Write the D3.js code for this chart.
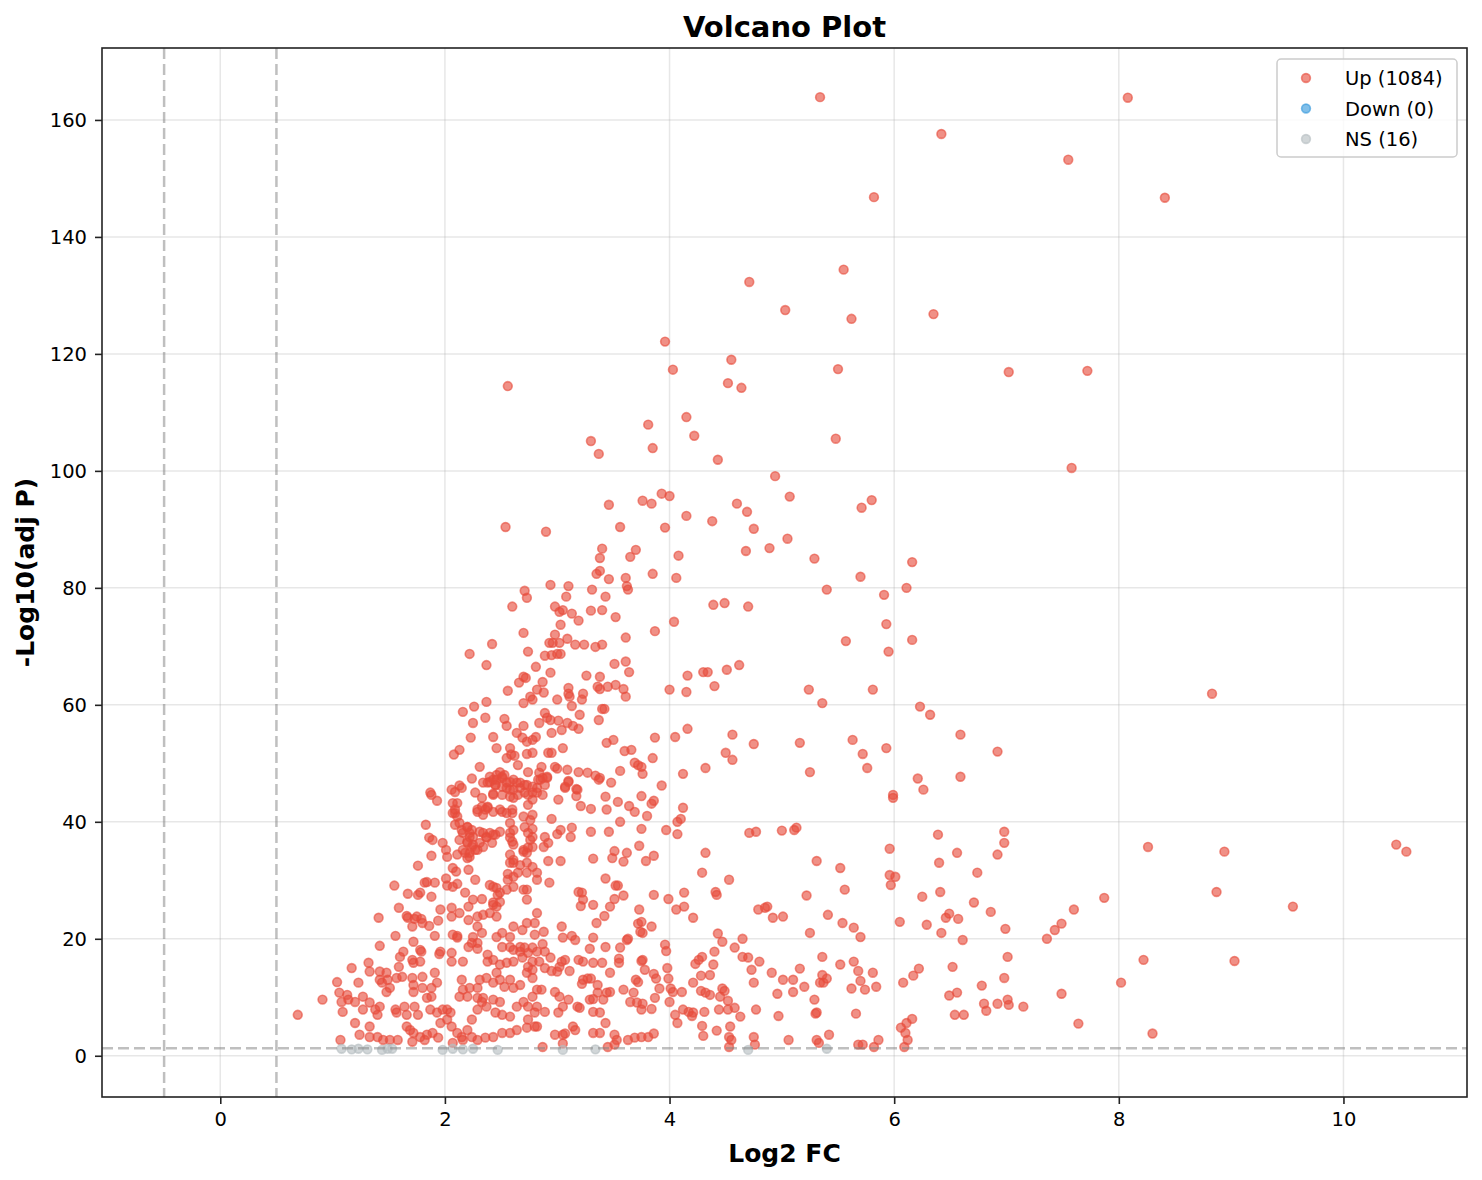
<!DOCTYPE html>
<html><head><meta charset="utf-8">
<script src="https://cdn.jsdelivr.net/npm/d3@7"></script>
<style>body{margin:0;background:#fff}svg{display:block}text{font-family:"DejaVu Sans",sans-serif}</style>
</head><body><svg id="c" width="1482" height="1180"></svg>
<script>
const titleText = "Volcano Plot";
const xLabel = "Log2 FC";
const yLabel = "-Log10(adj P)";
const xTicks = [0,2,4,6,8,10];
const yTicks = [0,20,40,60,80,100,120,140,160];
const legendLabels = ["Up (1084)","Down (0)","NS (16)"];
const fcThresholds = [-0.5, 0.5];
const pThreshold = 1.301;

const upTop = [[5.34,163.9],[8.08,163.8],[6.42,157.6],[7.55,153.2],[5.82,146.8],[8.41,146.7],[5.55,134.4],[4.71,132.3],[5.03,127.5],[6.35,126.8],[5.62,126.0],[3.96,122.1],[4.55,119.0],[5.50,117.4],[4.03,117.3],[7.02,116.9],[7.72,117.1],[2.56,114.5],[4.52,115.0],[4.64,114.2],[4.15,109.2],[3.81,107.9],[4.22,106.0],[3.30,105.1],[5.48,105.5],[3.37,102.9],[3.85,103.9],[4.43,101.9],[7.58,100.5],[4.94,99.1],[5.07,95.6],[3.93,96.1],[4.00,95.7],[3.76,94.9],[3.84,94.4],[5.80,95.0],[3.46,94.2],[5.71,93.7],[4.60,94.4],[4.69,93.0],[4.15,92.3],[4.38,91.4],[3.56,90.4],[2.54,90.4],[2.90,89.6],[3.96,90.3],[4.75,90.1],[5.05,88.4],[4.89,86.8],[3.40,86.7],[3.70,86.5],[4.68,86.3],[3.65,85.3],[4.08,85.5],[3.38,85.1],[5.29,85.0],[6.16,84.4]];

const upMidRight = [[5.70,81.9],[5.40,79.7],[6.11,80.0],[5.91,78.8],[5.93,73.8],[5.57,70.9],[6.16,71.1],[5.95,69.1],[5.24,62.6],[5.81,62.6],[8.83,61.9],[5.36,60.3],[6.23,59.7],[6.32,58.3],[6.59,54.9],[5.63,54.0],[6.92,52.0],[5.93,52.6],[5.72,51.6],[5.76,49.2],[5.25,48.5],[6.21,47.4],[6.59,47.7],[6.26,45.5],[5.99,44.1],[5.99,44.6],[5.16,53.5]];

const upMidUpper = [[3.38,82.9],[3.35,82.4],[3.46,81.5],[3.85,82.4],[3.61,81.7],[3.62,80.3],[3.63,79.7],[4.06,81.7],[2.94,80.5],[3.10,80.3],[3.08,78.5],[3.31,79.7],[3.43,78.5],[4.39,77.1],[4.49,77.4],[4.70,76.8],[2.98,76.8],[3.02,75.9],[3.05,76.2],[3.13,75.6],[3.30,76.1],[3.40,76.2],[3.19,74.4],[3.52,75.0],[3.03,73.7],[4.04,74.2],[3.87,72.6],[3.61,71.5],[2.98,72.0],[2.93,70.6],[2.96,70.6],[3.02,70.6],[3.09,71.3],[3.16,70.3],[3.24,70.3],[3.34,69.9],[3.40,70.3],[2.89,68.4],[2.95,68.5],[3.00,68.7],[3.03,68.7],[3.51,67.0],[3.61,67.4],[3.64,65.6],[2.94,65.5],[3.26,65.0],[3.38,64.8],[4.16,65.0],[4.30,65.6],[4.34,65.6],[4.51,66.0],[4.62,66.8],[2.87,63.9],[2.88,62.1],[3.10,62.9],[3.10,61.9],[3.11,61.4],[3.23,61.9],[3.22,60.9],[3.36,63.1],[3.38,62.7],[3.45,63.1],[3.52,63.4],[3.59,62.7],[3.61,61.4],[4.00,62.6],[4.15,62.2],[4.40,63.2],[3.00,60.9],[3.13,59.8],[3.20,58.3],[3.40,59.3],[3.42,59.3],[3.37,57.4],[2.89,58.6],[2.91,57.8],[2.94,57.4],[3.01,57.3],[3.04,55.7],[2.95,55.2],[3.09,56.9],[3.14,56.4],[3.19,55.9],[3.05,52.6],[2.92,51.8],[2.95,51.8],[3.44,53.5],[3.50,54.0],[3.60,52.1],[3.66,52.3],[3.87,54.4],[4.05,54.5],[4.16,55.9],[4.56,54.9],[4.75,53.3],[3.85,50.9],[4.50,51.8],[4.56,50.6],[3.69,50.1],[3.72,49.7],[3.75,49.4],[3.76,48.2],[3.56,48.7],[4.12,48.2],[4.32,49.2],[2.86,49.4],[2.87,47.5],[2.91,47.7],[2.98,49.4],[3.00,49.1],[3.09,48.9],[3.19,48.5],[3.27,48.4],[3.34,47.9],[3.38,47.5],[3.10,47.0],[3.07,46.0],[3.17,45.6],[3.48,46.7],[3.93,46.2]];

const upMidLeft = [[2.71,79.5],[2.73,78.3],[2.60,76.8],[2.70,72.3],[2.42,70.4],[2.22,68.7],[2.37,66.8],[2.74,69.1],[2.81,66.5],[2.70,64.8],[2.72,64.6],[2.66,63.8],[2.56,62.4],[2.76,61.4],[2.78,60.9],[2.82,62.6],[2.70,60.3],[2.16,58.8],[2.26,59.7],[2.37,60.5],[2.25,56.9],[2.36,57.8],[2.53,57.6],[2.55,56.4],[2.23,54.4],[2.43,54.5],[2.46,52.6],[2.70,56.4],[2.64,55.2],[2.69,54.4],[2.73,53.7],[2.78,54.0],[2.81,54.5],[2.84,56.9],[2.08,51.5],[2.13,52.3],[2.31,49.4],[2.58,52.6],[2.59,51.5],[2.62,51.3],[2.55,50.9],[2.65,49.7],[2.73,51.6],[2.78,51.8],[2.24,47.4],[2.13,46.2],[2.06,45.5],[2.40,46.8],[2.46,47.2],[2.45,46.3],[2.51,47.7],[2.53,48.0],[2.61,47.2],[2.67,46.7],[2.71,46.3],[2.74,48.5],[2.84,48.4],[2.83,47.2]];

const upCluster = [[2.40,47.7],[2.46,48.0],[2.51,47.5],[2.58,46.8],[2.64,46.7],[2.38,46.7],[2.45,46.3],[2.51,46.0],[2.55,45.8],[2.61,45.5],[2.67,45.8],[2.73,46.3],[2.49,48.5],[2.65,44.6],[2.58,44.3],[2.43,44.6],[2.78,45.0],[2.82,45.8],[2.85,47.2],[2.91,47.5],[2.13,39.8],[2.20,39.1],[2.24,38.6],[2.16,38.1],[2.22,37.4],[2.13,36.9],[2.20,36.4],[2.25,36.1],[2.16,35.2],[2.22,34.7],[2.27,35.2],[2.11,34.4],[2.20,33.8],[2.34,38.1],[2.37,37.3],[2.40,38.1],[2.45,37.8],[2.29,42.1],[2.33,42.6],[2.38,42.4],[2.43,41.7],[2.49,42.1],[2.55,41.5],[2.60,42.1],[2.34,41.2],[2.11,43.2],[2.09,41.5]];

const upDenseLeft = [[1.88,44.6],[1.93,43.6],[1.87,45.0],[2.09,45.1],[2.15,45.8],[2.27,45.0],[2.33,44.1],[2.43,44.8],[2.51,44.6],[2.61,44.1],[2.71,45.0],[2.34,46.7],[2.43,47.2],[2.55,46.7],[2.58,45.5],[2.07,43.2],[2.09,42.1],[2.07,41.5],[2.11,40.9],[2.29,41.7],[2.36,42.1],[2.38,42.6],[2.51,41.7],[2.70,40.9],[2.78,41.2],[2.74,44.6],[2.78,43.8],[2.74,42.9],[1.83,39.5],[2.09,39.5],[2.15,38.6],[2.20,39.1],[2.22,38.1],[2.25,37.4],[2.31,38.3],[2.37,37.4],[2.43,37.8],[2.49,38.3],[2.58,38.1],[2.61,38.6],[2.20,36.6],[2.24,35.7],[2.18,34.7],[2.22,34.0],[2.31,36.4],[2.29,35.2],[2.34,35.7],[2.42,36.4],[2.60,36.6],[2.58,37.3],[2.70,35.2],[2.73,34.7],[2.78,37.4],[2.76,36.9],[1.86,37.3],[1.89,36.9],[1.98,36.4],[2.01,35.2],[2.02,34.0],[1.88,34.2],[2.07,32.1],[2.10,31.5],[2.21,31.8],[2.27,30.1],[1.76,32.5],[2.01,30.3],[2.02,29.1],[2.07,28.9],[2.11,29.4],[1.91,29.6],[1.84,29.7],[1.82,29.6],[2.18,27.9],[2.25,26.7],[2.33,26.8],[2.40,29.2],[2.46,28.7],[2.47,27.5],[2.43,26.2],[2.46,25.5],[2.56,31.1],[2.61,33.0],[2.70,34.9],[2.73,28.4],[2.73,26.7],[2.82,30.1],[1.55,29.1],[1.67,27.7],[1.76,27.5],[1.78,27.9],[1.88,27.2],[1.59,25.3],[1.41,23.6],[1.66,23.9],[1.67,23.6],[1.75,23.8],[1.80,22.7],[1.73,23.4],[1.79,23.4],[1.86,22.2],[1.94,23.1],[1.96,25.0],[2.06,25.3],[2.06,23.8],[2.13,24.4],[1.71,22.1],[1.56,20.5],[1.42,18.8],[1.72,19.5],[1.78,18.1],[1.79,17.8],[1.91,20.5],[1.95,17.4],[1.96,17.8],[2.06,17.6],[2.07,20.7],[2.11,20.5],[2.11,20.2],[2.16,16.1],[2.21,18.6],[2.29,18.3],[2.29,19.3],[1.60,16.9],[1.63,17.8],[1.59,15.2],[1.71,16.4],[1.72,15.9],[1.78,16.1],[1.32,15.9],[1.33,14.4],[1.42,14.4],[1.48,14.2],[1.42,13.0],[1.44,12.5],[1.49,13.0],[1.51,11.6],[1.48,10.9],[1.17,15.0],[1.23,12.5],[1.04,12.6],[1.06,10.8],[1.13,10.4],[1.08,9.2],[1.14,9.6],[1.09,7.5],[0.91,9.6],[0.69,7.0],[1.20,9.2],[1.27,10.1],[1.33,9.1],[1.38,7.9],[1.42,8.4],[1.40,7.0],[1.27,7.9],[1.57,13.3],[1.62,13.5],[1.71,13.3],[1.72,12.1],[1.72,10.9],[1.80,13.5],[1.80,11.6],[1.88,11.6],[1.91,14.2],[1.93,12.5],[1.56,7.9],[1.57,7.4],[1.66,7.0],[1.73,8.4],[1.76,7.0],[1.64,8.4],[1.84,9.9],[1.88,10.1],[1.87,7.9],[1.93,7.4],[1.96,5.6],[2.02,7.9],[2.05,7.4],[2.06,16.1],[2.15,13.0],[2.16,11.3],[2.13,10.1],[1.20,5.6],[1.24,3.6],[1.33,5.0],[1.33,3.2],[1.40,3.2],[1.45,2.7],[1.51,2.7],[1.58,2.7],[1.07,2.7],[1.66,5.0],[1.69,4.4],[1.72,3.9],[1.78,3.2],[1.84,3.6],[1.89,3.9],[1.94,3.1],[1.82,2.7],[1.71,2.4],[1.98,7.9],[2.02,6.2],[2.06,5.0],[2.11,3.9],[2.15,3.2],[2.20,4.4],[2.24,6.2],[2.29,7.9],[2.33,9.2],[2.37,8.4],[2.43,9.6],[2.49,9.2],[2.45,7.4],[2.51,7.0],[2.58,6.7],[2.64,8.4],[2.70,9.2],[2.74,8.4],[2.74,6.2],[2.80,7.4],[2.82,5.0],[2.73,4.8],[2.64,4.4],[2.58,3.9],[2.51,3.9],[2.43,3.2],[2.36,3.1],[2.29,2.7],[2.24,3.2],[2.16,2.7],[2.07,2.2],[2.20,10.1],[2.29,9.9],[2.34,9.9],[2.29,11.6],[2.22,11.6],[2.31,13.0],[2.37,13.3],[2.43,12.5],[2.49,13.0],[2.53,11.8],[2.58,13.0],[2.61,11.6],[2.67,12.1],[2.73,14.2],[2.78,13.3],[2.82,11.3],[2.46,14.2],[2.38,16.1],[2.43,16.4],[2.49,15.6],[2.55,15.9],[2.61,16.1],[2.69,16.8],[2.71,18.5],[2.67,18.6],[2.78,16.1],[2.74,15.2],[2.24,19.3],[2.38,17.3],[2.51,18.6],[2.58,18.6],[2.61,18.1],[2.67,17.8],[2.74,17.6],[2.82,17.8],[2.80,20.7],[2.82,24.4],[2.73,22.7],[2.69,21.5],[2.61,22.1],[2.58,20.3],[2.51,21.0],[2.46,20.3],[2.46,23.8],[2.40,24.4],[2.43,25.8],[2.49,26.3],[2.34,24.1],[2.29,23.8],[2.33,21.0],[2.29,22.1],[2.25,20.3],[2.21,23.2],[2.21,25.5],[2.61,30.6],[2.65,31.3],[2.56,30.1],[2.73,31.3],[2.78,32.3],[2.82,31.3],[2.67,32.6],[2.61,33.5],[2.58,33.0],[2.73,33.0],[2.43,28.9],[2.49,27.9],[2.55,28.4],[2.61,28.9],[2.70,28.4],[2.58,34.4],[2.61,36.1],[2.74,35.6],[2.74,38.1],[2.71,39.1],[2.76,40.3],[2.60,41.5],[2.58,39.8]];

const upDenseMid = [[2.78,46.0],[2.82,45.0],[2.89,46.3],[2.87,44.6],[3.07,45.8],[3.10,46.8],[3.18,45.5],[3.17,44.4],[3.37,47.2],[3.01,43.8],[3.21,42.7],[3.30,42.2],[3.43,44.3],[3.44,42.1],[3.54,43.4],[3.64,42.7],[3.69,41.7],[3.75,44.4],[3.84,43.1],[3.86,43.6],[3.80,41.0],[4.12,42.4],[4.10,40.5],[4.07,40.0],[4.07,37.9],[3.97,38.6],[2.95,40.5],[3.56,40.0],[2.78,38.8],[2.78,35.7],[2.89,37.4],[2.88,35.7],[2.92,36.4],[3.03,38.6],[3.00,37.9],[3.13,39.0],[3.12,37.4],[3.30,38.3],[3.46,38.3],[3.75,38.8],[4.71,38.1],[4.77,38.3],[5.00,38.5],[4.32,34.7],[4.29,31.3],[4.53,30.1],[2.92,33.3],[3.03,33.3],[3.32,33.7],[3.51,35.0],[3.49,33.8],[3.59,33.2],[3.62,34.7],[3.73,35.9],[3.79,33.3],[3.86,34.2],[2.93,29.6],[3.19,28.0],[3.22,27.9],[3.23,26.7],[3.21,25.6],[3.32,25.8],[3.43,30.3],[3.52,29.1],[3.54,29.1],[3.51,26.8],[3.47,25.5],[3.59,27.4],[3.42,23.9],[3.35,22.7],[3.73,25.0],[3.72,22.6],[3.75,22.9],[3.76,21.0],[3.84,22.1],[3.74,21.2],[3.86,27.5],[3.99,26.8],[4.06,25.0],[4.13,25.5],[4.13,27.9],[4.21,23.6],[4.41,28.0],[4.42,27.5],[4.79,25.0],[4.87,25.5],[4.85,25.3],[4.92,23.6],[5.01,23.8],[2.80,22.7],[2.88,21.2],[3.04,22.1],[3.13,20.5],[3.16,19.8],[3.05,20.2],[3.32,20.2],[3.43,18.6],[3.29,18.3],[3.56,18.5],[3.62,19.8],[3.63,20.0],[3.96,19.0],[3.97,17.9],[4.43,20.9],[4.47,19.5],[4.40,17.8],[4.29,16.9],[4.58,18.5],[4.65,20.0],[4.65,16.9],[4.70,16.8],[4.80,16.1],[2.78,18.5],[2.87,19.1],[2.89,17.8],[2.84,16.1],[2.89,15.0],[2.78,14.7],[2.94,16.8],[3.04,16.1],[3.07,16.4],[3.02,15.2],[3.19,16.4],[3.23,16.1],[3.32,15.9],[3.40,15.9],[2.95,14.5],[3.00,14.4],[3.11,14.5],[2.86,11.3],[2.78,10.1],[2.98,10.9],[3.02,10.1],[3.05,8.4],[3.01,7.4],[2.89,7.5],[2.82,8.4],[3.10,9.6],[3.18,8.4],[3.20,8.2],[3.23,13.0],[3.27,13.2],[3.22,12.3],[3.30,13.2],[3.36,12.1],[3.36,10.8],[3.44,10.8],[3.47,10.9],[3.29,9.6],[3.32,9.7],[3.41,9.6],[3.38,7.4],[3.43,5.6],[3.32,7.5],[3.47,14.2],[3.55,16.6],[3.55,15.9],[3.59,11.3],[3.70,13.0],[3.68,10.8],[3.72,12.6],[3.65,9.2],[3.71,9.1],[3.75,7.9],[3.76,8.9],[3.84,8.0],[3.87,9.9],[3.78,14.7],[3.75,16.2],[3.76,16.4],[3.86,14.0],[3.88,13.2],[3.91,11.5],[3.98,15.0],[3.99,13.2],[4.01,11.5],[4.03,10.9],[4.11,10.9],[4.00,9.2],[4.05,7.0],[4.07,5.6],[4.12,7.9],[4.17,7.5],[4.21,7.4],[4.20,6.8],[4.31,7.5],[4.23,15.7],[4.26,16.4],[4.28,13.7],[4.36,13.8],[4.39,15.6],[4.21,12.5],[4.28,11.1],[4.32,10.8],[4.36,10.4],[4.47,11.5],[4.49,11.1],[4.45,10.1],[4.52,9.4],[4.58,8.2],[4.52,7.9],[4.63,6.7],[4.44,7.9],[4.73,14.7],[4.75,12.5],[4.91,14.2],[5.01,13.0],[4.96,10.6],[4.77,7.9],[4.97,6.8],[4.29,5.1],[4.30,3.4],[4.42,4.3],[4.54,5.0],[4.53,3.2],[4.55,2.7],[4.53,1.5],[4.75,3.2],[4.76,1.9],[2.80,5.0],[2.87,1.5],[2.98,3.6],[3.05,3.6],[3.05,2.1],[3.14,5.0],[3.16,4.4],[3.07,3.8],[3.32,3.9],[3.38,3.9],[3.51,3.6],[3.53,2.7],[3.45,1.5],[3.51,1.9],[3.63,2.7],[3.69,3.1],[3.75,3.2],[3.81,3.2],[3.86,3.8]];

const upRight = [[5.11,38.6],[5.13,39.0],[6.39,37.8],[6.98,38.3],[6.98,36.4],[5.96,35.4],[6.56,34.7],[6.92,34.4],[5.31,33.3],[5.52,32.1],[6.40,33.0],[5.96,30.9],[6.01,30.6],[5.97,29.2],[6.74,31.3],[5.56,28.4],[5.22,27.4],[6.25,27.2],[6.41,28.0],[6.71,26.2],[6.86,24.6],[7.60,25.0],[5.41,24.1],[5.54,22.7],[5.64,21.9],[5.70,20.3],[6.05,22.9],[6.29,22.4],[6.46,23.6],[6.49,24.3],[6.57,23.4],[6.42,21.0],[6.61,19.8],[6.99,21.7],[7.36,20.0],[7.43,21.5],[7.49,22.6],[5.25,21.0],[5.36,16.9],[5.16,14.9],[5.10,13.0],[5.10,10.9],[5.20,11.8],[5.36,13.8],[5.34,12.5],[5.37,12.5],[5.40,13.2],[5.52,15.6],[5.64,16.1],[5.68,14.5],[5.70,12.8],[5.81,14.2],[5.62,11.5],[5.74,11.3],[5.84,11.8],[5.29,9.6],[5.30,7.2],[5.31,7.4],[5.66,7.2],[6.08,12.5],[6.17,13.7],[6.22,14.9],[6.52,15.2],[7.01,16.9],[6.98,13.3],[6.78,12.0],[6.49,10.3],[6.56,10.8],[6.80,8.9],[6.82,7.7],[6.92,8.9],[7.01,9.6],[7.02,8.7],[7.15,8.4],[7.49,10.6],[6.54,7.0],[6.62,7.0],[7.64,5.5],[6.06,4.8],[6.11,5.6],[6.16,6.3],[6.10,3.9],[6.12,2.7],[6.09,1.5],[5.06,2.7],[5.31,2.7],[5.33,2.2],[5.42,3.6],[5.68,1.9],[5.72,1.9],[5.86,2.7],[5.82,1.5]];

const upFarRight = [[10.47,36.1],[10.56,34.9],[8.26,35.7],[8.94,34.9],[8.87,28.0],[7.87,27.0],[9.55,25.5],[8.22,16.4],[9.03,16.2],[8.02,12.5],[8.30,3.8]];

const downPoints = [];

const nsPoints = [[1.08,1.2],[1.17,1.1],[1.23,1.2],[1.31,1.1],[1.44,1.0],[1.49,1.2],[1.53,1.2],[1.98,1.0],[2.07,1.2],[2.16,1.1],[2.25,1.2],[2.47,1.0],[3.05,1.0],[3.34,1.1],[4.70,1.0],[5.40,1.2]];

const upPoints = [].concat(upTop, upMidRight, upMidUpper, upMidLeft, upCluster, upDenseLeft, upDenseMid, upRight, upFarRight);

const colors = {up:"#e74c3c", down:"#3498db", ns:"#b4bdc0"};

const svg = d3.select("#c");
const m = {l:102, r:1467, t:48, b:1097};
const x = d3.scaleLinear().domain([-1.053, 11.10]).range([m.l, m.r]);
const y = d3.scaleLinear().domain([-7.05, 172.3]).range([m.b, m.t]);

const g = svg.append("g");
g.append("g").selectAll("line").data(xTicks).join("line")
  .attr("x1", d=>x(d)).attr("x2", d=>x(d)).attr("y1", m.t).attr("y2", m.b)
  .attr("stroke","#b0b0b0").attr("stroke-opacity",0.3).attr("stroke-width",1.5);
g.append("g").selectAll("line").data(yTicks).join("line")
  .attr("y1", d=>y(d)).attr("y2", d=>y(d)).attr("x1", m.l).attr("x2", m.r)
  .attr("stroke","#b0b0b0").attr("stroke-opacity",0.3).attr("stroke-width",1.5);

function drawPts(data, color){
  g.append("g").selectAll("circle").data(data).join("circle")
    .attr("cx", d=>x(d[0])).attr("cy", d=>y(d[1])).attr("r", 4.4)
    .attr("fill", color).attr("fill-opacity", 0.62)
    .attr("stroke", color).attr("stroke-opacity", 0.62).attr("stroke-width", 1.6);
}
drawPts(upPoints, colors.up);
drawPts(downPoints, colors.down);
drawPts(nsPoints, colors.ns);

g.append("g").selectAll("line").data(fcThresholds).join("line")
  .attr("x1", d=>x(d)).attr("x2", d=>x(d)).attr("y1", m.t).attr("y2", m.b)
  .attr("stroke","#808080").attr("stroke-opacity",0.5).attr("stroke-width",2.5).attr("stroke-dasharray","11,5");
g.append("line").attr("x1", m.l).attr("x2", m.r).attr("y1", y(pThreshold)).attr("y2", y(pThreshold))
  .attr("stroke","#808080").attr("stroke-opacity",0.5).attr("stroke-width",2.5).attr("stroke-dasharray","11,5");

const xa = svg.append("g").attr("transform",`translate(0,${m.b})`)
  .call(d3.axisBottom(x).tickValues(xTicks).tickFormat(d3.format("d")).tickSize(7).tickPadding(8));
const ya = svg.append("g").attr("transform",`translate(${m.l},0)`)
  .call(d3.axisLeft(y).tickValues(yTicks).tickFormat(d3.format("d")).tickSize(7).tickPadding(8));
[xa,ya].forEach(a=>{
  a.select(".domain").remove();
  a.selectAll(".tick line").attr("stroke","#222").attr("stroke-width",1.6);
  a.selectAll(".tick text").attr("fill","#000").style("font-size","19.5px").style("font-family","DejaVu Sans");
});
svg.append("rect").attr("x",m.l).attr("y",m.t).attr("width",m.r-m.l).attr("height",m.b-m.t)
  .attr("fill","none").attr("stroke","#222").attr("stroke-width",1.6);

svg.append("text").attr("x",(m.l+m.r)/2).attr("y",37).attr("text-anchor","middle")
  .style("font-size","29px").style("font-weight","bold").text(titleText);
svg.append("text").attr("x",(m.l+m.r)/2).attr("y",1162).attr("text-anchor","middle")
  .style("font-size","25px").style("font-weight","bold").text(xLabel);
svg.append("text").attr("transform",`translate(34,${(m.t+m.b)/2}) rotate(-90)`).attr("text-anchor","middle")
  .style("font-size","25px").style("font-weight","bold").text(yLabel);

const lg = svg.append("g");
lg.append("rect").attr("x",1277).attr("y",59).attr("width",180).attr("height",98).attr("rx",4)
  .attr("fill","#fff").attr("fill-opacity",0.8).attr("stroke","#cccccc").attr("stroke-width",1.5);
const legColors = [colors.up, colors.down, colors.ns];
legendLabels.forEach((lab,i)=>{
  const cy = 78 + i*30.5;
  lg.append("circle").attr("cx",1306).attr("cy",cy).attr("r",4.4)
    .attr("fill",legColors[i]).attr("fill-opacity",0.62).attr("stroke",legColors[i]).attr("stroke-opacity",0.62).attr("stroke-width",1.6);
  lg.append("text").attr("x",1345).attr("y",cy+7).style("font-size","19.5px").text(lab);
});
</script></body></html>
